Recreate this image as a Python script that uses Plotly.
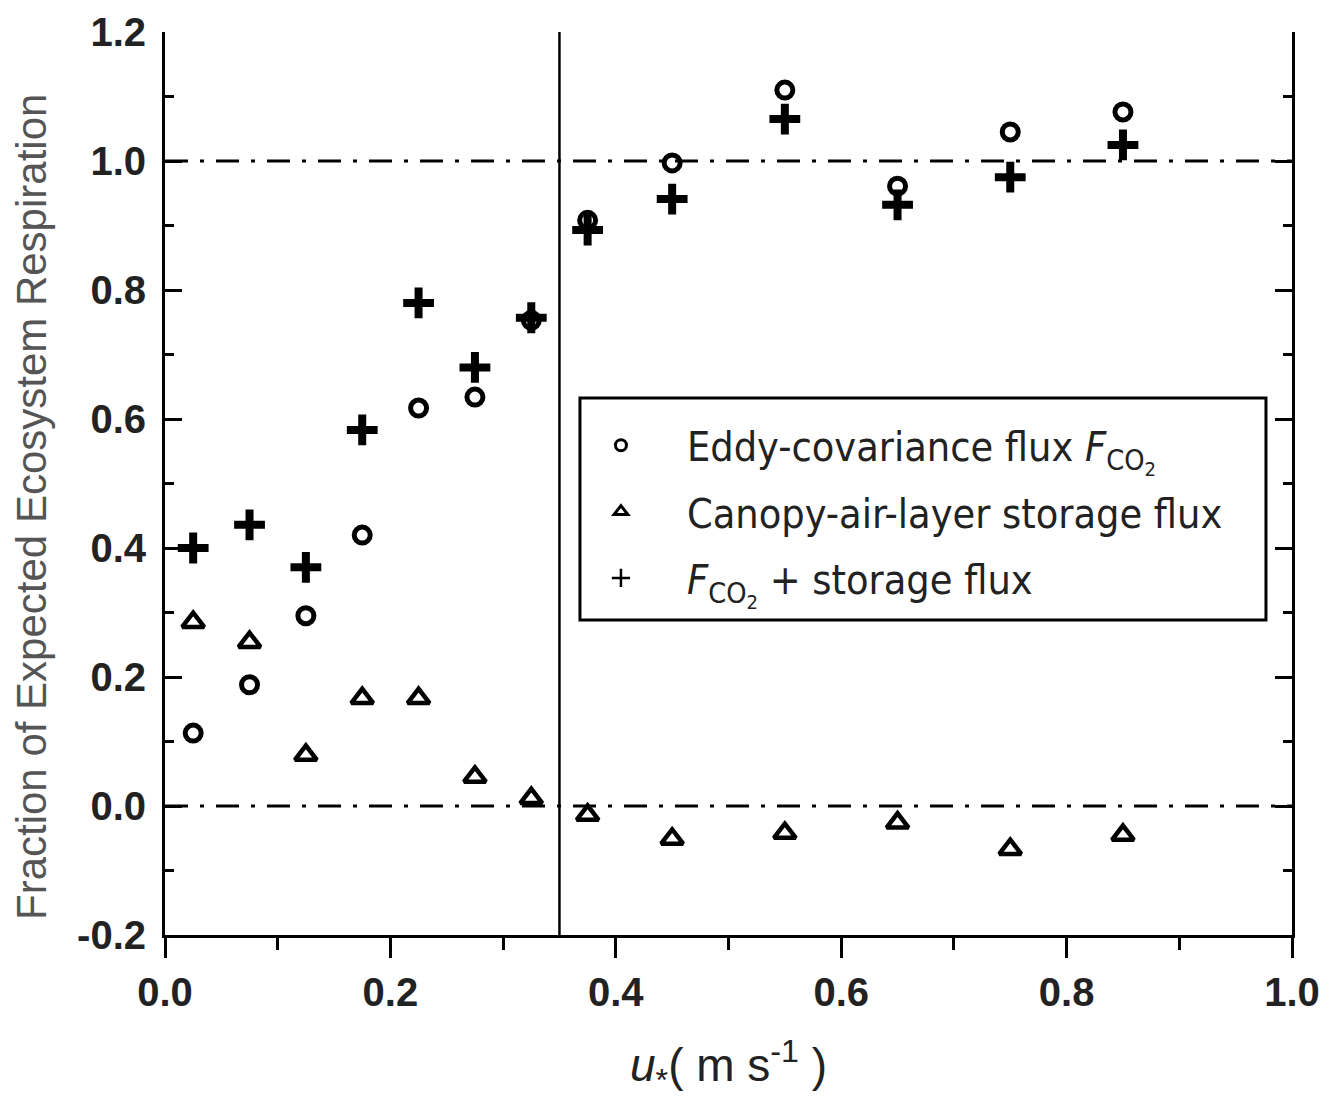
import plotly.graph_objects as go

# u* bin centres (m s-1)
ustar = [0.025, 0.075, 0.125, 0.175, 0.225, 0.275, 0.325, 0.375, 0.45, 0.55, 0.65, 0.75, 0.85]
# Eddy-covariance flux F_CO2 (fraction of expected respiration)
eddy = [0.113, 0.188, 0.295, 0.42, 0.617, 0.634, 0.753, 0.908, 0.997, 1.11, 0.961, 1.045, 1.076]
# Canopy-air-layer storage flux
storage = [0.285, 0.254, 0.079, 0.167, 0.167, 0.045, 0.012, -0.014, -0.051, -0.042, -0.026, -0.067, -0.045]
# F_CO2 + storage flux
total = [0.40, 0.436, 0.37, 0.583, 0.78, 0.68, 0.757, 0.893, 0.941, 1.065, 0.932, 0.975, 1.025]

threshold = 0.35
ref_lines = [1.0, 0.0]

legend_names = [
    "Eddy-covariance flux <i>F</i><sub>CO<sub>2</sub></sub>",
    "Canopy-air-layer storage flux",
    "<i>F</i><sub>CO<sub>2</sub></sub> + storage flux",
]

xticks = [0.0, 0.2, 0.4, 0.6, 0.8, 1.0]
xticklabels = ["0.0", "0.2", "0.4", "0.6", "0.8", "1.0"]
yticks = [-0.2, 0.0, 0.2, 0.4, 0.6, 0.8, 1.0, 1.2]
yticklabels = ["-0.2", "0.0", "0.2", "0.4", "0.6", "0.8", "1.0", "1.2"]

fig = go.Figure()

fig.add_trace(go.Scatter(x=ustar, y=eddy, mode="markers", showlegend=False,
                         marker=dict(symbol="circle-open", size=16, color="black",
                                     line=dict(width=5, color="black"))))
fig.add_trace(go.Scatter(x=ustar, y=storage, mode="markers", showlegend=False,
                         marker=dict(symbol="triangle-up-open", size=19, color="black",
                                     line=dict(width=4.5, color="black"))))
fig.add_trace(go.Scatter(x=ustar, y=total, mode="markers", showlegend=False,
                         marker=dict(symbol="cross-thin-open", size=22, color="black",
                                     line=dict(width=8, color="black"))))

# legend-only entries (smaller symbols as in the reference legend)
fig.add_trace(go.Scatter(x=[None], y=[None], mode="markers", name=legend_names[0], legendgroup="a",
                         marker=dict(symbol="circle-open", size=11, color="black",
                                     line=dict(width=3, color="black"))))
fig.add_trace(go.Scatter(x=[None], y=[None], mode="markers", name=legend_names[1], legendgroup="b",
                         marker=dict(symbol="triangle-up-open", size=12, color="black",
                                     line=dict(width=3, color="black"))))
fig.add_trace(go.Scatter(x=[None], y=[None], mode="markers", name=legend_names[2], legendgroup="c",
                         marker=dict(symbol="cross-thin-open", size=13, color="black",
                                     line=dict(width=2.5, color="black"))))

# threshold vertical line
fig.add_shape(type="line", xref="x", yref="paper", x0=threshold, x1=threshold, y0=0, y1=1,
              line=dict(color="black", width=2.5))
# dash-dot reference lines
for yv in ref_lines:
    fig.add_shape(type="line", xref="paper", yref="y", x0=0, x1=1, y0=yv, y1=yv,
                  line=dict(color="black", width=3, dash="23px,12px,4px,12px"))

# legend box
fig.add_shape(type="rect", xref="paper", yref="paper", x0=0.3682, x1=0.9769, y0=0.3488, y1=0.5947,
              line=dict(color="black", width=3), fillcolor="rgba(0,0,0,0)")

tickfont = dict(family="Liberation Sans, Arial, sans-serif", size=40, color="#222", weight="bold")

fig.update_layout(
    width=1325, height=1100,
    margin=dict(l=165, r=33, t=32, b=165, autoexpand=False),
    paper_bgcolor="white", plot_bgcolor="white",
    xaxis=dict(range=[0, 1], tickvals=xticks, ticktext=xticklabels, ticks="outside", ticklen=20,
               tickwidth=3, tickcolor="black", showline=True, linewidth=3, linecolor="black",
               showgrid=False, zeroline=False, mirror=False, tickfont=tickfont,
               minor=dict(dtick=0.1, ticks="outside", ticklen=12, tickwidth=3, tickcolor="black",
                          showgrid=False)),
    xaxis2=dict(range=[0, 1], overlaying="x", side="top", tickvals=xticks, ticks="inside",
                ticklen=17, tickwidth=3, tickcolor="black", showline=True, linewidth=3,
                linecolor="black", showgrid=False, zeroline=False, showticklabels=False,
                minor=dict(dtick=0.1, ticks="inside", ticklen=9, tickwidth=3, tickcolor="black",
                           showgrid=False)),
    yaxis=dict(range=[-0.2, 1.2], tickvals=yticks, ticktext=yticklabels, ticks="inside", ticklen=17,
               tickwidth=3, tickcolor="black", showline=True, linewidth=3, linecolor="black",
               showgrid=False, zeroline=False, mirror="ticks", tickfont=tickfont,
               ticklabelstandoff=8,
               minor=dict(dtick=0.1, ticks="inside", ticklen=9, tickwidth=3, tickcolor="black",
                          showgrid=False)),
    legend=dict(x=0.346, y=0.579, xanchor="left", yanchor="top", bgcolor="rgba(0,0,0,0)",
                borderwidth=0, itemwidth=122, tracegroupgap=10, traceorder="grouped",
                font=dict(family="Liberation Sans Narrow, Arial Narrow, DejaVu Sans Condensed, Liberation Sans, Arial",
                          size=41, color="#222")),
    showlegend=True,
)

fig.add_annotation(text="Fraction of Expected Ecosystem Respiration", xref="paper", yref="paper",
                   x=-0.118, y=0.474, xanchor="center", yanchor="middle", textangle=-90,
                   showarrow=False, font=dict(family="Liberation Sans, Arial", size=42, color="#555"))
fig.add_annotation(text="<i>u</i><sub>*</sub>( m s<sup>-1</sup> )", xref="paper", yref="paper",
                   x=0.5, y=-0.145, xanchor="center", yanchor="middle",
                   showarrow=False, font=dict(family="Liberation Sans, Arial", size=46, color="#222"))

fig.write_html("out.html")
